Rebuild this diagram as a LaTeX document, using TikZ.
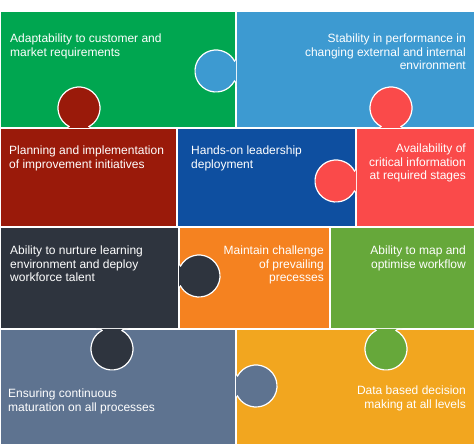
\documentclass[tikz,border=0pt]{standalone}
\usepackage{fontspec}
\setmainfont{Liberation Sans}
\definecolor{grass}{RGB}{0,166,80}
\definecolor{sky}{RGB}{61,154,209}
\definecolor{wine}{RGB}{154,26,10}
\definecolor{navy}{RGB}{14,79,160}
\definecolor{coral}{RGB}{250,74,74}
\definecolor{slate}{RGB}{46,52,62}
\definecolor{tangerine}{RGB}{245,130,32}
\definecolor{leaf}{RGB}{102,168,58}
\definecolor{steel}{RGB}{94,115,144}
\definecolor{amber}{RGB}{242,166,31}
\begin{document}
\begin{tikzpicture}[x=1pt,y=1pt,
  words/.style={text=white,font=\fontsize{12}{13.5}\selectfont,inner sep=0pt},
  knob/.pic={\filldraw[draw=white,line width=1.2pt,pic actions]
    (-16,0) .. controls (-11,0) .. (-10,1.53)
    arc[start angle=241.56,end angle=-61.56,radius=21pt]
    .. controls (11,0) .. (16,0);}]
\useasboundingbox[fill=white] (0,0) rectangle (475,447);
% pieces
\fill[grass] (1,320) rectangle (235,435);
\fill[sky] (237,320) rectangle (474,435);
\fill[wine] (1,221) rectangle (176,318);
\fill[navy] (178,221) rectangle (355,318);
\fill[coral] (357,221) rectangle (474,318);
\fill[slate] (1,119) rectangle (178,219);
\fill[tangerine] (180,119) rectangle (329,219);
\fill[leaf] (331,119) rectangle (474,219);
\fill[steel] (1,3) rectangle (235,117);
\fill[amber] (237,3) rectangle (474,117);
% knobs
\pic[rotate=90,fill=sky] at (236,376) {knob};
\pic[fill=wine] at (79,319) {knob};
\pic[fill=coral] at (391,319) {knob};
\pic[rotate=90,fill=coral] at (356,266) {knob};
\pic[rotate=-90,fill=slate] at (179,171) {knob};
\pic[rotate=180,fill=slate] at (112,118) {knob};
\pic[rotate=180,fill=leaf] at (386,118) {knob};
\pic[rotate=-90,fill=steel] at (236,61) {knob};
% texts
\node[words,anchor=base west,align=left] (adapt) at (10,390.5)
  {Adaptability to customer and\\market requirements};
\node[words,anchor=base east,align=right] (stable) at (466,377)
  {Stability in performance in\\changing external and internal\\environment};
\node[words,anchor=base west,align=left] (plan) at (9,278.5)
  {Planning and implementation\\of improvement initiatives};
\node[words,anchor=base west,align=left] (lead) at (191,278.5)
  {Hands-on leadership\\deployment};
\node[words,anchor=base east,align=right] (info) at (466,267)
  {Availability of\\critical information\\at required stages};
\node[words,anchor=base west,align=left] (talent) at (10,165)
  {Ability to nurture learning\\environment and deploy\\workforce talent};
\node[words,anchor=base east,align=right] (challenge) at (324,165)
  {Maintain challenge\\of prevailing\\precesses};
\node[words,anchor=base east,align=right] (flow) at (466,178.5)
  {Ability to map and\\optimise workflow};
\node[words,anchor=base west,align=left] (mature) at (8,35.5)
  {Ensuring continuous\\maturation on all processes};
\node[words,anchor=base east,align=right] (data) at (466,38.5)
  {Data based decision\\making at all levels};
\end{tikzpicture}
\end{document}
